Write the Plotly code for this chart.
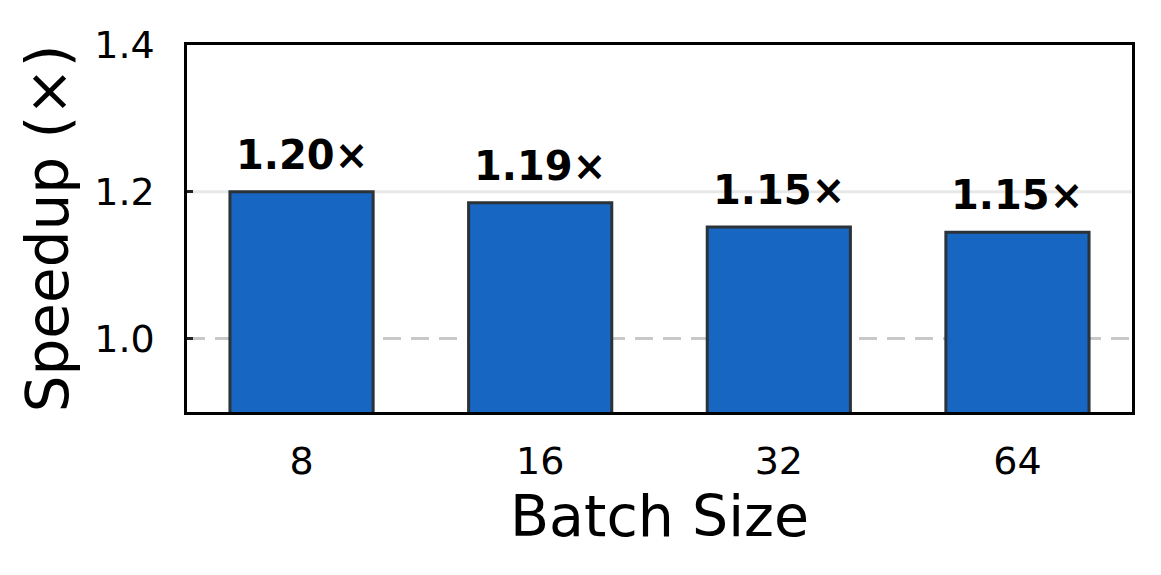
import plotly.graph_objects as go

batch_sizes = ["8", "16", "32", "64"]
speedups = [1.20, 1.185, 1.152, 1.145]
speedup_labels = ["1.20×", "1.19×", "1.15×", "1.15×"]
baseline = 1.0
grid_levels = [1.2]

pos = list(range(len(batch_sizes)))

fig = go.Figure(go.Bar(
    x=pos,
    y=speedups,
    width=0.6,
    marker=dict(color="#1766C1", line=dict(color="#2b3238", width=3)),
))

# labels above the bars
for p, s, lab in zip(pos, speedups, speedup_labels):
    fig.add_annotation(x=p, y=s, xref="x", yref="y", text="<b>" + lab + "</b>",
                       showarrow=False, yanchor="bottom", yshift=12,
                       font=dict(family="DejaVu Sans", size=40, color="black"))

# light grid + dashed baseline, drawn under the bars
# (plot bg is transparent so the lower shape layer shows through)
for g in grid_levels:
    fig.add_shape(type="line", xref="x domain", yref="y", x0=0, x1=1, y0=g, y1=g,
                  line=dict(color="#e8e8e8", width=3), layer="below")
fig.add_shape(type="line", xref="x domain", yref="y", x0=0, x1=1, y0=baseline, y1=baseline,
              line=dict(color="#c8c8c8", width=3, dash="18px,10px"), layer="below")

# page body has an 8px margin, so shrink the figure a bit
fig.update_layout(
    width=1153, height=567,
    paper_bgcolor="white", plot_bgcolor="rgba(0,0,0,0)",
    margin=dict(l=179, r=29, t=37, b=163, autoexpand=False),
    font=dict(family="DejaVu Sans", color="black"),
    showlegend=False,
    xaxis=dict(
        range=[-0.48, 3.48],
        tickvals=pos, ticktext=batch_sizes,
        title=dict(text="Batch Size", font=dict(size=57), standoff=10),
        tickfont=dict(size=38),
        ticks="", ticklabelstandoff=14,
        showline=True, linecolor="black", linewidth=2.5, mirror=True,
        showgrid=False, zeroline=False, automargin=False,
    ),
    yaxis=dict(
        range=[0.9, 1.4],
        tickvals=[1.0, 1.2, 1.4],
        ticktext=["1.0", "1.2", "1.4"],
        tickfont=dict(size=38),
        ticks="inside", ticklen=6, tickwidth=2.5, tickcolor="#222222",
        ticklabelstandoff=22,
        title=dict(text="Speedup (×)", font=dict(size=58), standoff=7),
        showline=True, linecolor="black", linewidth=2.5, mirror=True,
        showgrid=False, zeroline=False, automargin=False,
    ),
)

fig.write_html("out.html")
